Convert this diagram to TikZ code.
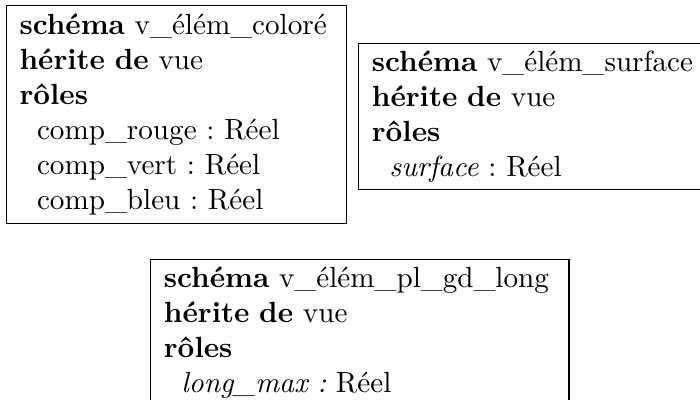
\documentclass[tikz,border=0pt]{standalone}
\usepackage{fontspec}
\tikzset{schemabox/.style={draw, anchor=north west, align=left, inner xsep=4.5pt, inner ysep=2.5pt, font=\frenchspacing}}
\newcommand{\ind}{\hspace*{6pt}}

\begin{document}
\begin{tikzpicture}[x=1pt,y=1pt]
  \useasboundingbox (0,0) rectangle (240,-137);

  % v_élém_coloré
  \node[schemabox, text width=107.6pt, minimum height=74.8pt] (colore) at (2,-1.7)
    {\textbf{schéma} v\_élém\_coloré\\\textbf{hérite de} vue\\\textbf{rôles}\\
     \ind comp\_rouge : Réel\\\ind comp\_vert : Réel\\\ind comp\_bleu : Réel};

  % v_élém_surface
  \node[schemabox, text width=127pt, minimum height=48.4pt] (surface) at (122.8,-14.7)
    {\textbf{schéma} v\_élém\_surface\\\textbf{hérite de} vue\\\textbf{rôles}\\
     \ind\textit{surface} : Réel};

  % v_élém_pl_gd_long
  \node[schemabox, text width=134.4pt, minimum height=48.6pt] (longmax) at (51.5,-88.8)
    {\textbf{schéma} v\_élém\_pl\_gd\_long\\\textbf{hérite de} vue\\\textbf{rôles}\\
     \ind\textit{long\_max :} Réel};
\end{tikzpicture}
\end{document}
